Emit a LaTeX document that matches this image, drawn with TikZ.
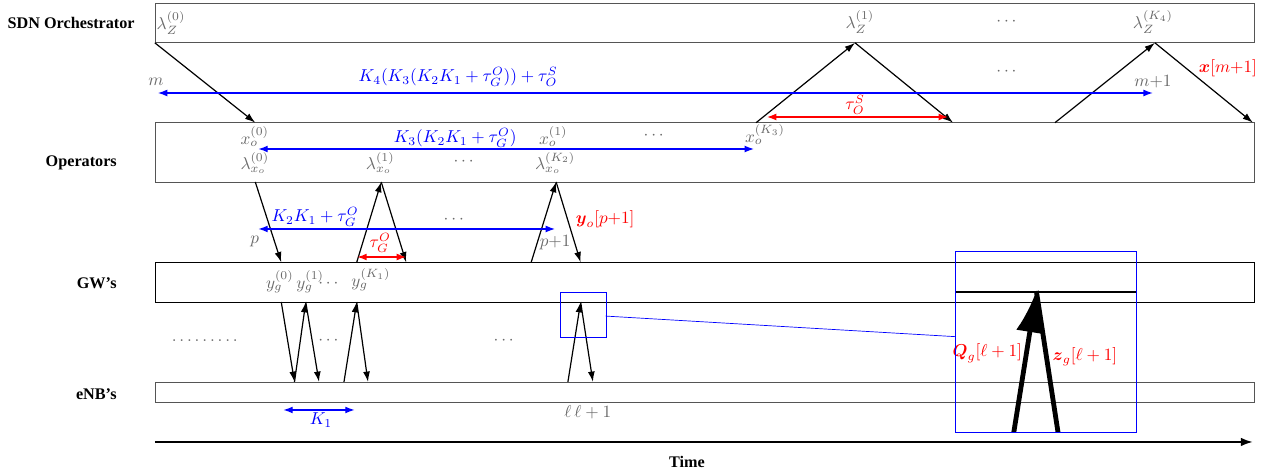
\documentclass[tikz,border=0pt]{standalone}
\usepackage{amsmath}
\usepackage{fontspec}
\setmainfont{Liberation Serif}
\usetikzlibrary{arrows.meta,spy}
\definecolor{TlBlue}{RGB}{0,0,255}
\definecolor{TlRed}{RGB}{255,0,0}
\definecolor{TlGray}{RGB}{105,105,105}
\definecolor{TlLine}{RGB}{85,85,85}
\tikzset{
  tl/lane/.style={
    draw=TlLine,
    thin,
    inner sep=0pt,
    outer sep=0pt,
    minimum width=22.43cm
  },
  tl/entity/.style={font=\fontsize{9.4}{11}\selectfont\bfseries, anchor=east, inner sep=0pt},
  tl/msg/.style={-{Latex[length=6pt,width=4pt]}, line width=0.7pt, draw=black},
  tl/span/.style={{Latex[length=5.5pt,width=4pt]}-{Latex[length=5.5pt,width=4pt]}, line width=0.8pt, draw=TlBlue},
  tl/delay/.style={{Latex[length=5.5pt,width=4pt]}-{Latex[length=5.5pt,width=4pt]}, line width=0.8pt, draw=TlRed},
  tl/axis/.style={-{Latex[length=7pt,width=5pt]}, line width=1.2pt, draw=black},
  tl/val/.style={text=TlGray, inner sep=1pt},
  tl/bluelabel/.style={text=TlBlue, inner sep=1pt},
  tl/redlabel/.style={text=TlRed, inner sep=1pt}
}

\begin{document}
\begin{tikzpicture}[x=1cm,y=1cm,
  spy using outlines={rectangle, TlBlue, magnification=4, size=3.69cm, connect spies}]
  \useasboundingbox (0,0) rectangle (25.98,9.714);
  % lanes
  \node[tl/lane,minimum height=0.81cm] (sdn) at (14.378,9.248) {};
  \node[tl/lane,minimum height=1.21cm] (ops) at (14.378,6.605) {};
  \node[tl/lane,draw=black,minimum height=0.816cm] (gw) at (14.378,3.953) {};
  \node[tl/lane,minimum height=0.408cm] (enb) at (14.378,1.714) {};
  \node[tl/entity] (sdnname) at (2.755,9.245) {SDN Orchestrator};
  \node[tl/entity] (opsname) at (2.39,6.39) {Operators};
  \node[tl/entity] (gwname) at (2.39,3.94) {GW’s};
  \node[tl/entity] (enbname) at (2.39,1.67) {eNB’s};

  % event points on the lanes
  \coordinate (z0) at (3.16,8.84);
  \coordinate (z1) at (17.45,8.84);
  \coordinate (zk) at (23.57,8.84);
  \coordinate (o0) at (5.21,7.21);
  \coordinate (o1up) at (15.43,7.21);
  \coordinate (o1dn) at (19.45,7.21);
  \coordinate (o2up) at (21.53,7.21);
  \coordinate (o2dn) at (25.57,7.21);
  \coordinate (b0) at (5.21,6.00);
  \coordinate (b1) at (7.78,6.00);
  \coordinate (b2) at (11.35,6.00);
  \coordinate (g0) at (5.74,4.36);
  \coordinate (g1) at (7.28,4.36);
  \coordinate (g2) at (8.29,4.36);
  \coordinate (g3) at (10.84,4.36);
  \coordinate (g4) at (11.85,4.36);
  \coordinate (h0) at (5.74,3.55);
  \coordinate (h1) at (6.24,3.55);
  \coordinate (h2) at (7.28,3.55);
  \coordinate (h3) at (11.85,3.55);
  \coordinate (e0) at (6.01,1.92);
  \coordinate (e1) at (6.51,1.92);
  \coordinate (e2) at (7.02,1.92);
  \coordinate (e3) at (7.51,1.92);
  \coordinate (e4) at (11.59,1.92);
  \coordinate (e5) at (12.10,1.92);

  % messages
  \draw[tl/msg] (z0) -- (o0);
  \draw[tl/msg] (o1up) -- (z1);
  \draw[tl/msg] (z1) -- (o1dn);
  \draw[tl/msg] (o2up) -- (zk);
  \draw[tl/msg] (zk) -- (o2dn);
  \draw[tl/msg] (b0) -- (g0);
  \draw[tl/msg] (g1) -- (b1);
  \draw[tl/msg] (b1) -- (g2);
  \draw[tl/msg] (g3) -- (b2);
  \draw[tl/msg] (b2) -- (g4);
  \draw[tl/msg] (h0) -- (e0);
  \draw[tl/msg] (e0) -- (h1);
  \draw[tl/msg] (h1) -- (e1);
  \draw[tl/msg] (e2) -- (h2);
  \draw[tl/msg] (h2) -- (e3);
  \draw[tl/msg] (e4) -- (h3);
  \draw[tl/msg] (h3) -- (e5);

  % SDN lane
  \node[tl/val] (lz0) at (3.49,9.245) {$\lambda_Z^{(0)}$};
  \node[tl/val] (lz1) at (17.55,9.265) {$\lambda_Z^{(1)}$};
  \node[tl/val] (lzdots) at (20.57,9.28) {$\cdots$};
  \node[tl/val] (lzk) at (23.53,9.265) {$\lambda_Z^{(K_4)}$};

  % between SDN and operators
  \coordinate (mL) at (3.22,7.816);
  \coordinate (mR) at (23.53,7.816);
  \draw[tl/span] (mL) -- (mR);
  \node[tl/val] (mlab) at (3.18,8.04) {$m$};
  \node[tl/val] (m1lab) at (23.53,8.04) {$m{+}1$};
  \node[tl/bluelabel] (k4lab) at (9.35,8.14) {$K_4(K_3(K_2K_1+\tau_G^O))+\tau_O^S$};
  \node[tl/val] (mdots) at (20.57,8.26) {$\cdots$};
  \node[tl/redlabel] (xlab) at (25.06,8.33) {$\boldsymbol{x}[m{+}1]$};
  \coordinate (sL) at (15.65,7.3265);
  \coordinate (sR) at (19.35,7.3265);
  \draw[tl/delay] (sL) -- (sR);
  \node[tl/redlabel] (tauS) at (17.45,7.57) {$\tau_O^S$};

  % operators lane
  \node[tl/val] (xo0) at (5.20,6.92) {$x_o^{(0)}$};
  \node[tl/val] (lo0) at (5.20,6.39) {$\lambda_{x_o}^{(0)}$};
  \node[tl/val] (lo1) at (7.76,6.39) {$\lambda_{x_o}^{(1)}$};
  \node[tl/val] (lodots) at (9.49,6.41) {$\cdots$};
  \node[tl/val] (xo1) at (11.29,6.92) {$x_o^{(1)}$};
  \node[tl/val] (lok) at (11.33,6.39) {$\lambda_{x_o}^{(K_2)}$};
  \node[tl/val] (xodots) at (13.37,6.94) {$\cdots$};
  \node[tl/val] (xok) at (15.61,6.96) {$x_o^{(K_3)}$};
  \coordinate (kL) at (5.27,6.673);
  \coordinate (kR) at (15.39,6.673);
  \draw[tl/span] (kL) -- (kR);
  \node[tl/bluelabel] (k3lab) at (9.29,6.90) {$K_3(K_2K_1+\tau_G^O)$};

  % between operators and GWs
  \coordinate (pL) at (5.27,5.0408);
  \coordinate (pR) at (11.33,5.0408);
  \draw[tl/span] (pL) -- (pR);
  \node[tl/bluelabel] (k2lab) at (6.43,5.29) {$K_2K_1+\tau_G^O$};
  \node[tl/val] (pdots) at (9.29,5.24) {$\cdots$};
  \node[tl/val] (plab) at (5.20,4.78) {$p$};
  \node[tl/val] (p1lab) at (11.33,4.76) {$p{+}1$};
  \node[tl/redlabel] (ylab) at (12.35,5.24) {$\boldsymbol{y}_o[p{+}1]$};
  \coordinate (gL) at (7.29,4.469);
  \coordinate (gR) at (8.29,4.469);
  \draw[tl/delay] (gL) -- (gR);
  \node[tl/redlabel] (tauG) at (7.76,4.76) {$\tau_G^O$};

  % GW lane
  \node[tl/val] (yg0) at (5.71,3.96) {$y_g^{(0)}$};
  \node[tl/val] (yg1) at (6.33,3.96) {$y_g^{(1)}$};
  \node[tl/val] (ygdots) at (6.73,3.92) {$\cdots$};
  \node[tl/val] (ygk) at (7.57,4.00) {$y_g^{(K_1)}$};

  % between GWs and eNBs
  \node[tl/val] (edots0) at (4.18,2.76) {$\ldots\ldots\ldots$};
  \node[tl/val] (edots1) at (6.73,2.76) {$\cdots$};
  \node[tl/val] (edots2) at (10.31,2.76) {$\cdots$};

  % eNB lane
  \coordinate (aL) at (5.78,1.347);
  \coordinate (aR) at (7.24,1.347);
  \draw[tl/span] (aL) -- (aR);
  \node[tl/bluelabel] (k1lab) at (6.55,1.14) {$K_1$};
  \node[tl/val] (llab) at (11.59,1.31) {$\ell$};
  \node[tl/val] (l1lab) at (12.10,1.31) {$\ell+1$};

  % time axis
  \coordinate (t0) at (3.16,0.694);
  \coordinate (t1) at (25.57,0.694);
  \draw[tl/axis] (t0) -- (t1);
  \node[tl/entity,anchor=center] (timename) at (14.02,0.286) {Time};

  % zoom on one GW exchange
  \node[tl/redlabel] (qlab) at (20.15,2.51) {$\boldsymbol{Q}_g[\ell+1]$};
  \node[tl/redlabel] (zlab) at (22.14,2.43) {$\boldsymbol{z}_g[\ell+1]$};
  \spy on (11.90,3.29) in node at (21.35,2.735);
\end{tikzpicture}
\end{document}
